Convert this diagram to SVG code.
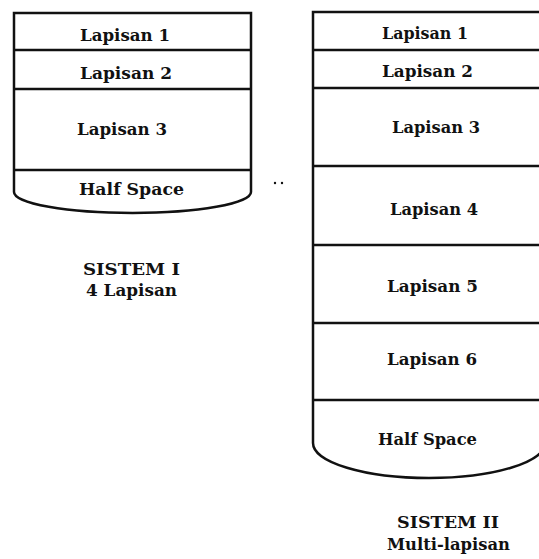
<svg xmlns="http://www.w3.org/2000/svg" width="539" height="559" viewBox="0 0 539 559">
<style>
  .ln { stroke: #111; stroke-width: 2.5; fill: none; }
  .bd { stroke: #111; stroke-width: 2.5; fill: #fff; }
  text { font-family: "DejaVu Serif", "Liberation Serif", serif; font-weight: bold; font-size: 16px; fill: #111; }
</style>
<rect width="539" height="559" fill="#fff"/>

<g id="sistem1">
  <path class="bd" d="M14,13 H251 V192 A118.5 21 0 0 1 14,192 Z"/>
  <g id="s1-layers" class="ln">
    <line x1="14" y1="50" x2="251" y2="50"/>
    <line x1="14" y1="89" x2="251" y2="89"/>
    <line x1="14" y1="170" x2="251" y2="170"/>
  </g>
  <text x="80" y="40.5" textLength="90" lengthAdjust="spacingAndGlyphs">Lapisan 1</text>
  <text x="80" y="79" textLength="92" lengthAdjust="spacingAndGlyphs">Lapisan 2</text>
  <text x="77" y="135" textLength="90" lengthAdjust="spacingAndGlyphs">Lapisan 3</text>
  <text x="79" y="195" textLength="105" lengthAdjust="spacingAndGlyphs">Half Space</text>
  <text x="83" y="275" textLength="97" lengthAdjust="spacingAndGlyphs">SISTEM I</text>
  <text x="86" y="296" textLength="91" lengthAdjust="spacingAndGlyphs">4 Lapisan</text>
</g>

<g id="dots">
  <circle cx="275" cy="183" r="1.2" fill="#111"/>
  <circle cx="282" cy="183" r="1.2" fill="#111"/>
</g>

<g id="sistem2">
  <path class="bd" d="M313,12 H545 V443 A116 35 0 0 1 313,443 Z"/>
  <g id="s2-layers" class="ln">
    <line x1="313" y1="50" x2="545" y2="50"/>
    <line x1="313" y1="88" x2="545" y2="88"/>
    <line x1="313" y1="166" x2="545" y2="166"/>
    <line x1="313" y1="245" x2="545" y2="245"/>
    <line x1="313" y1="323" x2="545" y2="323"/>
    <line x1="313" y1="400" x2="545" y2="400"/>
  </g>
  <text x="382" y="39" textLength="86" lengthAdjust="spacingAndGlyphs">Lapisan 1</text>
  <text x="382" y="77" textLength="91" lengthAdjust="spacingAndGlyphs">Lapisan 2</text>
  <text x="392" y="133" textLength="88" lengthAdjust="spacingAndGlyphs">Lapisan 3</text>
  <text x="390" y="215" textLength="88" lengthAdjust="spacingAndGlyphs">Lapisan 4</text>
  <text x="387" y="292" textLength="91" lengthAdjust="spacingAndGlyphs">Lapisan 5</text>
  <text x="387" y="365" textLength="90" lengthAdjust="spacingAndGlyphs">Lapisan 6</text>
  <text x="378" y="445" textLength="99" lengthAdjust="spacingAndGlyphs">Half Space</text>
  <text x="397" y="528" textLength="102" lengthAdjust="spacingAndGlyphs">SISTEM II</text>
  <text x="387" y="550" textLength="123" lengthAdjust="spacingAndGlyphs">Multi-lapisan</text>
</g>
</svg>
